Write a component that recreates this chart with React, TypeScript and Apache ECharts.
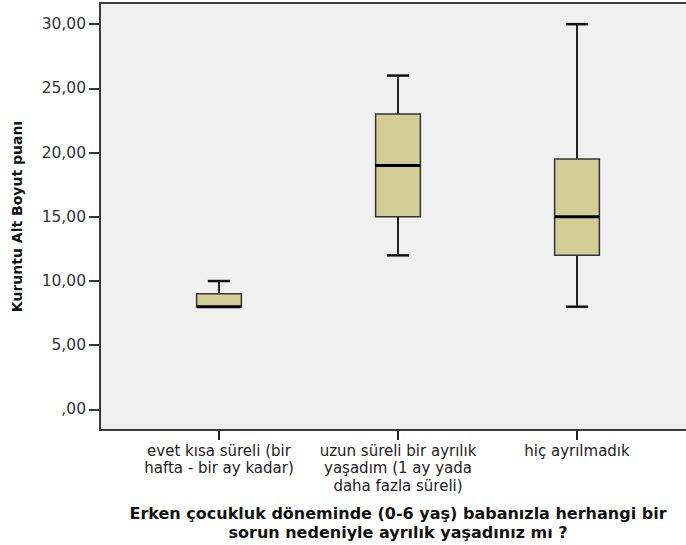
import React, { useEffect, useRef } from "react";
import * as echarts from "echarts";

const categories = [
  "evet kısa süreli (bir\nhafta - bir ay kadar)",
  "uzun süreli bir ayrılık\nyaşadım (1 ay yada\ndaha fazla süreli)",
  "hiç ayrılmadık",
];
const mins = [8, 12, 8];
const q1s = [8, 15, 12];
const medians = [8, 19, 15];
const q3s = [9, 23, 19.5];
const maxs = [10, 26, 30];
const yTicks = [0, 5, 10, 15, 20, 25, 30];
const yAxisTitle = "Kuruntu Alt Boyut puanı";
const xAxisTitle =
  "Erken çocukluk döneminde (0-6 yaş) babanızla herhangi bir\nsorun nedeniyle ayrılık yaşadınız mı ?";

const FONT = "DejaVu Sans";
const FRAME = { color: "#3a3a3a", width: 2 };

export default function App() {
  const ref = useRef<HTMLDivElement>(null);
  useEffect(() => {
    if (!ref.current) return;
    const chart = echarts.init(ref.current, null, { renderer: "svg" });
    const yMin = -1.6;
    const yMax = 31.65;
    const data = categories.map((_, i) => [i, mins[i], q1s[i], medians[i], q3s[i], maxs[i]]);
    chart.setOption({
      animation: false,
      backgroundColor: "#ffffff",
      grid: [
        {
          left: 100,
          top: 3,
          width: 620,
          bottom: 115,
          outerBoundsMode: "none",
          containLabel: false,
          show: true,
          backgroundColor: "#f0f0f0",
          borderWidth: 0,
        },
        { left: 129.5, width: 537, top: 3, bottom: 115, outerBoundsMode: "none", containLabel: false },
      ],
      xAxis: [
        {
          gridIndex: 0,
          type: "value",
          min: 0,
          max: 1,
          position: "bottom",
          axisLine: { show: true, onZero: false, lineStyle: FRAME },
          axisTick: { show: false },
          axisLabel: { show: false },
          splitLine: { show: false },
        },
        {
          gridIndex: 1,
          type: "category",
          data: categories,
          boundaryGap: true,
          position: "bottom",
          axisLine: { show: false, onZero: false },
          axisTick: { show: true, alignWithLabel: true, length: 10, lineStyle: { color: "#222", width: 2 } },
          axisLabel: {
            margin: 12,
            fontFamily: FONT,
            fontSize: 15,
            lineHeight: 17.6,
            color: "#222",
            interval: 0,
          },
          splitLine: { show: false },
          name: xAxisTitle,
          nameLocation: "middle",
          nameGap: 74,
          nameTextStyle: {
            fontFamily: FONT,
            fontSize: 16,
            fontWeight: "bold",
            lineHeight: 18.8,
            color: "#111",
            align: "center",
          },
        },
        {
          gridIndex: 0,
          type: "value",
          min: 0,
          max: 1,
          position: "top",
          axisLine: { show: true, onZero: false, lineStyle: FRAME },
          axisTick: { show: false },
          axisLabel: { show: false },
          splitLine: { show: false },
        },
      ],
      yAxis: [
        {
          gridIndex: 0,
          type: "value",
          min: yMin,
          max: yMax,
          axisLine: { show: true, onZero: false, lineStyle: FRAME },
          axisTick: {
            show: true,
            length: 11,
            customValues: yTicks,
            lineStyle: { color: "#333", width: 2 },
          },
          axisLabel: {
            customValues: yTicks,
            margin: 14,
            fontFamily: FONT,
            fontSize: 15.5,
            color: "#333",
            formatter: (v: number) => (v === 0 ? ",00" : v.toFixed(2).replace(".", ",")),
          },
          splitLine: { show: false },
          name: yAxisTitle,
          nameLocation: "middle",
          nameGap: 76,
          nameTextStyle: {
            fontFamily: FONT,
            fontSize: 14,
            fontWeight: "bold",
            color: "#111",
          },
        },
        { gridIndex: 1, type: "value", min: yMin, max: yMax, show: false },
      ],
      series: [
        {
          type: "custom",
          xAxisIndex: 1,
          yAxisIndex: 1,
          encode: { x: 0, y: [1, 2, 3, 4, 5] },
          data,
          renderItem: (params: any, api: any) => {
            const idx = api.value(0);
            const band = api.size([1, 0])[0];
            const bw = band * 0.25;
            const cx = api.coord([idx, api.value(3)])[0];
            const yMinP = api.coord([idx, api.value(1)])[1];
            const yQ1 = api.coord([idx, api.value(2)])[1];
            const yMed = api.coord([idx, api.value(3)])[1];
            const yQ3 = api.coord([idx, api.value(4)])[1];
            const yMaxP = api.coord([idx, api.value(5)])[1];
            const ws = { stroke: "#222", lineWidth: 2 };
            return {
              type: "group",
              children: [
                { type: "line", shape: { x1: cx, y1: yMaxP, x2: cx, y2: yQ3 }, style: ws },
                { type: "line", shape: { x1: cx, y1: yQ1, x2: cx, y2: yMinP }, style: ws },
                { type: "line", shape: { x1: cx - bw / 4, y1: yMaxP, x2: cx + bw / 4, y2: yMaxP }, style: { stroke: "#111", lineWidth: 2.5 } },
                { type: "line", shape: { x1: cx - bw / 4, y1: yMinP, x2: cx + bw / 4, y2: yMinP }, style: { stroke: "#111", lineWidth: 2.5 } },
                {
                  type: "rect",
                  shape: { x: cx - bw / 2, y: yQ3, width: bw, height: yQ1 - yQ3 },
                  style: { fill: "#d3ce97", stroke: "#333", lineWidth: 1.5 },
                },
                { type: "line", shape: { x1: cx - bw / 2, y1: yMed, x2: cx + bw / 2, y2: yMed }, style: { stroke: "#000", lineWidth: 3 } },
              ],
            };
          },
        },
      ],
    });
    return () => chart.dispose();
  }, []);
  return (
    <div
      ref={ref}
      style={{ position: "fixed", left: 0, top: 0, width: 686, height: 545 }}
    />
  );
}
